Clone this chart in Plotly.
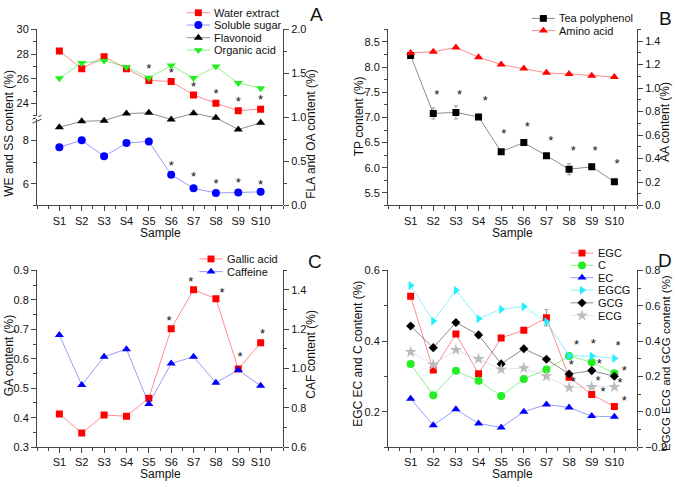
import math
import plotly.graph_objects as go

W, H = 675, 489

# ---------------- data ----------------
samples = ["S1", "S2", "S3", "S4", "S5", "S6", "S7", "S8", "S9", "S10"]

# Panel A
water_extract = [28.26, 26.82, 27.79, 26.82, 25.87, 25.79, 24.69, 24.03, 23.42, 23.55]
soluble_sugar = [7.69, 8.01, 7.27, 7.88, 7.96, 6.42, 5.79, 5.58, 5.60, 5.63]
flavonoid = [0.889, 0.956, 0.963, 1.044, 1.052, 0.978, 1.048, 0.996, 0.863, 0.939]
organic_acid = [1.444, 1.619, 1.644, 1.574, 1.452, 1.589, 1.448, 1.578, 1.390, 1.333]
a_star_we_x = [5, 6, 7, 8, 9, 10]
a_star_we_y = [26.98, 26.63, 25.52, 24.92, 24.34, 24.50]
a_star_ss_x = [6, 7, 8, 9, 10]
a_star_ss_y = [6.91, 6.40, 6.08, 6.12, 6.03]

# Panel B
tea_polyphenol = [8.23, 7.08, 7.10, 7.01, 6.32, 6.50, 6.24, 5.97, 6.02, 5.72]
tea_polyphenol_err = [0.03, 0.11, 0.13, 0.03, 0.03, 0.03, 0.03, 0.11, 0.03, 0.03]
amino_acid = [1.300, 1.310, 1.346, 1.263, 1.200, 1.167, 1.130, 1.120, 1.105, 1.095]
b_star_x = [2.15, 3.16, 4.30, 5.12, 6.15, 7.19, 8.18, 9.15, 10.12]
b_star_y = [7.48, 7.48, 7.37, 6.71, 6.86, 6.58, 6.37, 6.38, 6.12]

# Panel C
gallic_acid = [0.413, 0.348, 0.409, 0.405, 0.466, 0.702, 0.834, 0.804, 0.565, 0.654]
caffeine = [1.171, 0.916, 1.060, 1.099, 0.820, 1.026, 1.060, 0.928, 0.993, 0.913]
c_star_x = [5.90, 6.88, 8.27, 9.08, 10.08]
c_star_y = [0.734, 0.867, 0.832, 0.614, 0.690]

# Panel D
egc = [0.527, 0.318, 0.420, 0.308, 0.409, 0.431, 0.466, 0.298, 0.249, 0.215]
egc_err = [0.005, 0.005, 0.005, 0.005, 0.005, 0.005, 0.023, 0.005, 0.005, 0.005]
cat_c = [0.335, 0.247, 0.316, 0.288, 0.245, 0.293, 0.320, 0.358, 0.340, 0.309]
ec = [0.237, 0.162, 0.207, 0.167, 0.156, 0.200, 0.221, 0.212, 0.188, 0.186]
egcg = [0.714, 0.513, 0.687, 0.527, 0.580, 0.595, 0.509, 0.317, 0.315, 0.302]
gcg = [0.485, 0.363, 0.505, 0.435, 0.271, 0.357, 0.297, 0.214, 0.233, 0.201]
ecg = [0.338, 0.266, 0.350, 0.299, 0.240, 0.247, 0.201, 0.137, 0.141, 0.141]
d_star_x = [8.33, 8.10, 8.18, 9.07, 9.33, 9.28, 9.50, 10.16, 10.44, 10.25, 10.44]
d_star_y = [0.394, 0.339, 0.290, 0.397, 0.340, 0.294, 0.262, 0.393, 0.321, 0.289, 0.236]

xs = [i + 1 for i in range(len(samples))]

# ---------------- style ----------------
FONT = "Liberation Sans, Arial, sans-serif"
AX = "#444444"
TICK_FS = 11
TITLE_FS = 12
XTITLE_FS = 12
LEG_FS = 11
STAR_FS = 13
STAR_DY_PX = 3

RED, RED_L = "#FF0000", "rgba(255,0,0,0.45)"
BLUE, BLUE_L = "#0000FF", "rgba(0,0,255,0.4)"
BLACK, BLACK_L = "#000000", "rgba(0,0,0,0.45)"
GREEN, GREEN_L = "#22EE22", "rgba(0,220,0,0.45)"
CYAN, CYAN_L = "#22EEFF", "rgba(0,230,255,0.45)"
GRAY, GRAY_L = "#BBBBBB", "rgba(180,180,180,0.35)"


def fx(px):
    return px / W


def fy(py):
    return 1 - py / H


# panel geometry in pixels
PX_A = (37, 283)
PX_B = (388, 637)
TOP1, BOT1 = 24, 204.5
TOP2, BOT2 = 271, 452.3

axes_px = {}  # yaxis name -> (top_px, bottom_px, range)


def xaxis(px, anchor):
    return dict(
        domain=[fx(px[0]), fx(px[1])], range=[0, 11], anchor=anchor,
        tickmode="array", tickvals=xs, ticktext=samples,
        showline=True, linecolor=AX, linewidth=1, ticks="outside", ticklen=5,
        tickcolor=AX, tickfont=dict(family=FONT, size=TICK_FS, color="#111"),
        showgrid=False, zeroline=False,
        minor=dict(tickmode="linear", tick0=0, dtick=0.5, ticks="outside",
                   ticklen=3, tickcolor=AX, showgrid=False),
    )


def yaxis(name, top, bot, rng, dtick, tick0, mdtick, fmt, side="left", anchor="x"):
    axes_px[name] = (top, bot, rng)
    return dict(
        domain=[fy(bot), fy(top)], range=rng, anchor=anchor, side=side,
        tickmode="linear", dtick=dtick, tick0=tick0, tickformat=fmt,
        showline=True, linecolor=AX, linewidth=1, ticks="outside", ticklen=5,
        tickcolor=AX, tickfont=dict(family=FONT, size=TICK_FS, color="#111"),
        showgrid=False, zeroline=False,
        minor=dict(tickmode="linear", tick0=tick0, dtick=mdtick, ticks="outside",
                   ticklen=3, tickcolor=AX, showgrid=False),
    )


layout = dict(
    width=W, height=H, autosize=False,
    margin=dict(l=0, r=0, t=0, b=0),
    paper_bgcolor="white", plot_bgcolor="rgba(0,0,0,0)",
    showlegend=False,
    font=dict(family=FONT, color="#111"),
)

layout["xaxis"] = xaxis(PX_A, "y")
layout["xaxis2"] = xaxis(PX_B, "y4")
layout["xaxis3"] = xaxis(PX_A, "y6")
layout["xaxis4"] = xaxis(PX_B, "y8")

# Panel A: broken left axis + right axis
layout["yaxis"] = yaxis("y", 115.7, BOT1, [5, 9], 2, 6, 1, "d", anchor="x")
layout["yaxis2"] = yaxis("y2", TOP1, 112.7, [23, 30], 2, 24, 1, "d", anchor="x")
layout["yaxis3"] = yaxis("y3", TOP1, BOT1, [0, 2], 0.5, 0, 0.25, ".1f", side="right", anchor="x")
# Panel B
layout["yaxis4"] = yaxis("y4", TOP1, BOT1, [5.25, 8.75], 0.5, 5.5, 0.25, ".1f", anchor="x2")
layout["yaxis5"] = yaxis("y5", TOP1, BOT1, [0, 1.5], 0.2, 0, 0.1, ".1f", side="right", anchor="x2")
# Panel C
layout["yaxis6"] = yaxis("y6", TOP2, BOT2, [0.3, 0.9], 0.1, 0.3, 0.05, ".1f", anchor="x3")
layout["yaxis7"] = yaxis("y7", TOP2, BOT2, [0.6, 1.5], 0.2, 0.6, 0.1, ".1f", side="right", anchor="x3")
# Panel D
layout["yaxis8"] = yaxis("y8", TOP2, BOT2, [0.1, 0.6], 0.2, 0.2, 0.1, ".1f", anchor="x4")
layout["yaxis9"] = yaxis("y9", TOP2, BOT2, [-0.2, 0.8], 0.2, -0.2, 0.1, ".1f", side="right", anchor="x4")

fig = go.Figure()


def series(y, xa, ya, color, lcolor, symbol, size, err=None):
    tr = go.Scatter(
        x=xs, y=y, xaxis=xa, yaxis=ya, mode="lines+markers",
        line=dict(color=lcolor, width=1),
        marker=dict(symbol=symbol, size=size, color=color, line=dict(width=0)),
        hoverinfo="skip",
    )
    if err is not None:
        tr.error_y = dict(type="data", array=err, color="#999999", thickness=1, width=2)
    fig.add_trace(tr)


def stars(sx, sy, xa, ya):
    top, bot, rng = axes_px[ya]
    units_per_px = (rng[1] - rng[0]) / (bot - top)
    yy = [v - STAR_DY_PX * units_per_px for v in sy]
    fig.add_trace(go.Scatter(
        x=sx, y=yy, xaxis=xa, yaxis=ya, mode="text", text=["*"] * len(sx),
        textposition="middle center",
        textfont=dict(family=FONT, size=STAR_FS, color="#111"), hoverinfo="skip",
    ))


# Panel A traces
series(water_extract, "x", "y2", RED, RED_L, "square", 7)
series(soluble_sugar, "x", "y", BLUE, BLUE_L, "circle", 8)
series(flavonoid, "x", "y3", BLACK, BLACK_L, "triangle-up", 8)
series(organic_acid, "x", "y3", GREEN, GREEN_L, "triangle-down", 8)
stars(a_star_we_x, a_star_we_y, "x", "y2")
stars(a_star_ss_x, a_star_ss_y, "x", "y")

# Panel B traces
series(tea_polyphenol, "x2", "y4", BLACK, BLACK_L, "square", 7, tea_polyphenol_err)
series(amino_acid, "x2", "y5", RED, RED_L, "triangle-up", 8)
stars(b_star_x, b_star_y, "x2", "y4")

# Panel C traces
series(gallic_acid, "x3", "y6", RED, RED_L, "square", 7)
series(caffeine, "x3", "y7", BLUE, BLUE_L, "triangle-up", 8)
stars(c_star_x, c_star_y, "x3", "y6")

# Panel D traces
series(egc, "x4", "y8", RED, RED_L, "square", 7, egc_err)
series(cat_c, "x4", "y8", GREEN, GREEN_L, "circle", 8)
series(ec, "x4", "y8", BLUE, BLUE_L, "triangle-up", 8)
series(egcg, "x4", "y9", CYAN, CYAN_L, "triangle-right", 8)
series(gcg, "x4", "y9", BLACK, BLACK_L, "diamond", 7)
series(ecg, "x4", "y9", GRAY, GRAY_L, "star", 9)
stars(d_star_x, d_star_y, "x4", "y8")

# ---------------- legends (drawn as layout shapes + text) ----------------
shapes = []
annotations = []


def poly_path(cx, cy, pts):
    s = ""
    for i, (dx, dy) in enumerate(pts):
        s += ("M" if i == 0 else "L") + f"{fx(cx + dx):.5f},{fy(cy + dy):.5f}"
    return s + "Z"


def glyph(cx, cy, symbol, size, color):
    r = size / 2
    if symbol == "circle":
        shapes.append(dict(type="circle", xref="paper", yref="paper",
                           x0=fx(cx - r), x1=fx(cx + r), y0=fy(cy + r), y1=fy(cy - r),
                           fillcolor=color, line=dict(width=0)))
        return
    if symbol == "square":
        pts = [(r, r), (-r, r), (-r, -r), (r, -r)]
    elif symbol == "triangle-up":
        rt, r2 = r * 2 / math.sqrt(3), r / 2
        pts = [(-rt, r2), (rt, r2), (0, -r)]
    elif symbol == "triangle-down":
        rt, r2 = r * 2 / math.sqrt(3), r / 2
        pts = [(-rt, -r2), (rt, -r2), (0, r)]
    elif symbol == "triangle-right":
        rt, r2 = r * 2 / math.sqrt(3), r / 2
        pts = [(-r2, -rt), (r, 0), (-r2, rt)]
    elif symbol == "diamond":
        rd = r * 1.3
        pts = [(rd, 0), (0, rd), (-rd, 0), (0, -rd)]
    else:  # star
        ro, ri = r * 1.4, r * 1.4 * 0.382
        pts = []
        for k in range(10):
            ang = -math.pi / 2 + k * math.pi / 5
            rr = ro if k % 2 == 0 else ri
            pts.append((rr * math.cos(ang), rr * math.sin(ang)))
    shapes.append(dict(type="path", xref="paper", yref="paper",
                       path=poly_path(cx, cy, pts), fillcolor=color, line=dict(width=0)))


def legend(x0, x1, tx, rows, items):
    for yc, (label, color, lcolor, symbol, size) in zip(rows, items):
        shapes.append(dict(type="line", xref="paper", yref="paper",
                           x0=fx(x0), x1=fx(x1), y0=fy(yc), y1=fy(yc),
                           line=dict(color=lcolor, width=1)))
        glyph((x0 + x1) / 2, yc, symbol, size, color)
        annotations.append(dict(xref="paper", yref="paper", x=fx(tx - 1), y=fy(yc),
                                xanchor="left", yanchor="middle", showarrow=False,
                                text=label, font=dict(family=FONT, size=LEG_FS, color="#111")))


legend(186.7, 210, 213, [6.9, 19.5, 32.5, 45.3], [
    ("Water extract", RED, RED_L, "square", 7),
    ("Soluble sugar", BLUE, BLUE_L, "circle", 8),
    ("Flavonoid", BLACK, BLACK_L, "triangle-up", 8),
    ("Organic acid", GREEN, GREEN_L, "triangle-down", 8),
])
legend(531.7, 555, 557.7, [12.7, 25.2], [
    ("Tea polyphenol", BLACK, BLACK_L, "square", 7),
    ("Amino acid", RED, RED_L, "triangle-up", 8),
])
legend(199.3, 222.7, 226, [259.3, 272.3], [
    ("Gallic acid", RED, RED_L, "square", 7),
    ("Caffeine", BLUE, BLUE_L, "triangle-up", 8),
])
legend(570.7, 593.3, 596.7, [253.3, 265.9, 278.5, 291.3, 304.3, 317.3], [
    ("EGC", RED, RED_L, "square", 7),
    ("C", GREEN, GREEN_L, "circle", 8),
    ("EC", BLUE, BLUE_L, "triangle-up", 8),
    ("EGCG", CYAN, CYAN_L, "triangle-right", 8),
    ("GCG", BLACK, BLACK_L, "diamond", 7),
    ("ECG", GRAY, GRAY_L, "star", 9),
])

# axis break marks on panel A left axis
for y0 in (114.0, 118.0):
    shapes.append(dict(type="line", xref="paper", yref="paper",
                       x0=fx(32.5), x1=fx(41.5), y0=fy(y0 + 2), y1=fy(y0 - 2),
                       line=dict(color=AX, width=1)))
shapes.append(dict(type="rect", xref="paper", yref="paper",
                   x0=fx(35.5), x1=fx(38.5), y0=fy(115.4), y1=fy(113.0),
                   fillcolor="white", line=dict(width=0), layer="above"))


def text(x, y, s, size, angle=0):
    annotations.append(dict(xref="paper", yref="paper", x=fx(x), y=fy(y),
                            xanchor="center", yanchor="middle", showarrow=False,
                            text=s, textangle=angle,
                            font=dict(family=FONT, size=size, color="#111")))


# axis titles
text(9, 131, "WE and SS content (%)", TITLE_FS, -90)
text(311, 132, "FLA and OA content (%)", TITLE_FS, -90)
text(359, 113, "TP content (%)", TITLE_FS, -90)
text(665, 119, "AA content (%)", TITLE_FS, -90)
text(9, 359, "GA content (%)", TITLE_FS, -90)
text(311.5, 357, "CAF content (%)", TITLE_FS, -90)
text(358.5, 357, "EGC EC and C content (%)", TITLE_FS, -90)
text(666, 366, "EGCG ECG and GCG content (%)", 11.5, -90)
for cx, cy in ((160, 232.5), (512.5, 232.5), (160, 479.3), (512.5, 479.3)):
    text(cx, cy, "Sample", XTITLE_FS)

# panel letters
text(316, 9, "A", 19)
text(665, 13, "B", 19)
text(315, 262, "C", 19)
text(665, 261, "D", 19)

layout["shapes"] = shapes
layout["annotations"] = annotations
fig.update_layout(**layout)
fig.write_html(
    "out.html",
    config={"displayModeBar": False},
    post_script="document.body.style.margin='0px';document.body.style.padding='0px';",
)
